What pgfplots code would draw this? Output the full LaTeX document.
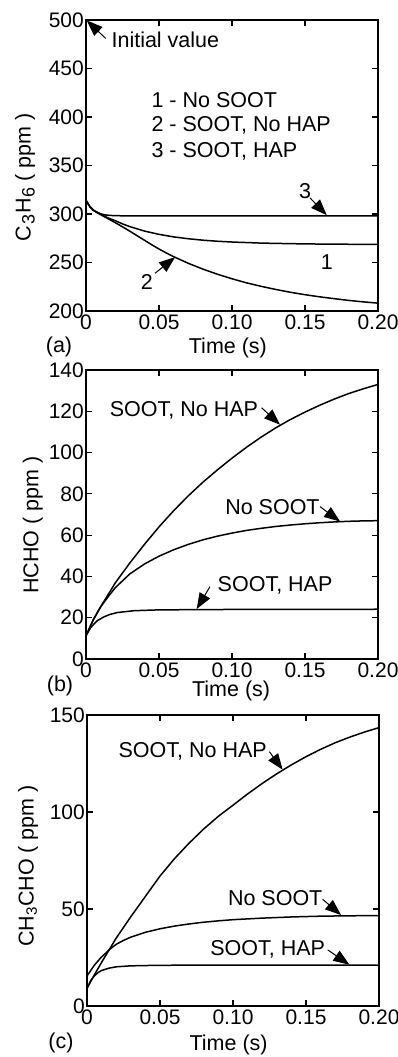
\documentclass[border=0pt]{standalone}
\usepackage{pgfplots}
\pgfplotsset{compat=1.18}
\usepackage{fontspec}
\setmainfont{Liberation Sans}
\usetikzlibrary{arrows.meta}

\tikzset{annot/.style={-{Triangle[length=16pt,width=12pt]}, line width=1pt},
         curve/.style={black, line width=1.5pt, mark=none}}
\pgfplotsset{
  myaxis/.style={
    scale only axis, width=292pt,
    xmin=0, xmax=0.2,
    xtick={0,0.05,0.1,0.15,0.2},
    xticklabels={0,0.05,0.10,0.15,0.20},
    tick align=inside, major tick length=6pt,
    axis line style={line width=1.5pt},
    every tick/.style={black, line width=1.1pt},
    tick label style={font=\fontsize{21}{24}\selectfont},
    label style={font=\fontsize{21.5}{25}\selectfont},
    /pgf/number format/assume math mode=true,
    yticklabel style={inner xsep=2pt},
    clip=false,
  },
}

\begin{document}
\begin{tikzpicture}[x=1pt,y=1pt,font=\fontsize{21.5}{25}\selectfont]
\useasboundingbox (0,0) rectangle (398,1057);

% ---------------- (a) C3H6 ----------------
\begin{axis}[myaxis, at={(86pt,746pt)}, anchor=south west, height=291pt,
  ymin=200, ymax=500, ytick={200,250,...,500},
  xlabel={Time (s)}, xlabel style={at={(axis description cs:0.486,-0.127)}, anchor=center},
  ylabel={C\kern1pt\raisebox{-4pt}{\fontsize{18}{20}\selectfont 3}\kern1pt H\kern1pt\raisebox{-4pt}{\fontsize{18}{20}\selectfont 6} ( ppm )},
  ylabel style={at={(axis description cs:-0.209,0.459)}, anchor=center}]
\addplot[curve] coordinates {(0,314) (0.0027,307.5) (0.005,304) (0.01,300) (0.015,296) (0.02,293.1) (0.025,289.8) (0.03,287.0) (0.04,282.4) (0.05,279.0) (0.06,276.4) (0.07,274.5) (0.08,273.0) (0.09,271.9) (0.10,271.1) (0.12,270.0) (0.14,269.4) (0.16,269.0) (0.18,268.8) (0.20,268.7)};
\addplot[curve] coordinates {(0,314) (0.0027,307.5) (0.005,303.8) (0.01,299.3) (0.015,295.2) (0.02,291.1) (0.025,286.8) (0.03,282.3) (0.035,277.6) (0.04,273.0) (0.045,268.3) (0.05,263.9) (0.055,259.8) (0.06,256.0) (0.07,249.2) (0.08,243.2) (0.09,237.9) (0.10,233.2) (0.11,229.0) (0.12,225.4) (0.13,222.2) (0.14,219.3) (0.15,216.8) (0.16,214.6) (0.17,212.7) (0.18,210.9) (0.19,209.4) (0.20,208.1)};
\addplot[curve] coordinates {(0,314) (0.0027,307.5) (0.005,304) (0.0075,301.5) (0.01,300.2) (0.0125,299.2) (0.0165,298.5) (0.025,298.1) (0.05,298) (0.20,298)};
\node[anchor=west] at (axis cs:0.0151,479.4) {Initial value};
\draw[annot] (axis cs:0.0135,481) -- (axis cs:0.0005,499.5);
\node[anchor=west] at (axis cs:0.0425,417) {1 - No SOOT};
\node[anchor=west] at (axis cs:0.0425,391) {2 - SOOT, No HAP};
\node[anchor=west] at (axis cs:0.0425,365) {3 - SOOT, HAP};
\node at (axis cs:0.150,323.4) {3};
\draw[annot] (axis cs:0.1534,316.6) -- (axis cs:0.1649,298.8);
\node at (axis cs:0.1649,250.8) {1};
\node at (axis cs:0.0416,230.2) {2};
\draw[annot] (axis cs:0.0473,238.9) -- (axis cs:0.061,255.5);
\node at (rel axis cs:-0.0925,-0.124) {(a)};
\end{axis}

% ---------------- (b) HCHO ----------------
\begin{axis}[myaxis, at={(86pt,398pt)}, anchor=south west, height=289pt,
  ymin=0, ymax=140, ytick={0,20,...,140},
  xlabel={Time (s)}, xlabel style={at={(axis description cs:0.497,-0.11)}, anchor=center},
  ylabel={HCHO ( ppm )},
  ylabel style={at={(axis description cs:-0.182,0.464)}, anchor=center}]
\addplot[curve] coordinates {(0,11.3) (0.005,19) (0.01,25.3) (0.015,31) (0.02,36.8) (0.03,46.5) (0.04,55.5) (0.05,64) (0.06,71.8) (0.07,79) (0.08,85.6) (0.09,91.6) (0.10,97.3) (0.11,102.6) (0.12,107.5) (0.13,112) (0.14,116) (0.15,119.6) (0.16,122.9) (0.17,125.9) (0.18,128.6) (0.19,130.9) (0.20,133)};
\addplot[curve] coordinates {(0,11.3) (0.005,19) (0.01,25.2) (0.015,30) (0.02,34.5) (0.03,41.2) (0.04,46) (0.05,49.8) (0.06,52.9) (0.07,55.5) (0.08,57.7) (0.09,59.5) (0.10,61) (0.11,62.3) (0.12,63.3) (0.13,64.2) (0.14,64.9) (0.15,65.5) (0.16,66) (0.17,66.4) (0.18,66.7) (0.19,66.9) (0.20,67)};
\addplot[curve] coordinates {(0,11.3) (0.003,15) (0.0055,17) (0.008,18.7) (0.0123,20.4) (0.016,21.5) (0.0214,22.5) (0.0329,23.4) (0.05,23.8) (0.10,24) (0.20,24.1)};
\node at (axis cs:0.0671,120.6) {SOOT, No HAP};
\draw[annot] (axis cs:0.1203,121.7) -- (axis cs:0.1329,113.5);
\node at (axis cs:0.1277,73.8) {No SOOT};
\draw[annot] (axis cs:0.1603,73.8) -- (axis cs:0.174,66.6);
\node at (axis cs:0.1295,35.5) {SOOT, HAP};
\draw[annot] (axis cs:0.0849,35) -- (axis cs:0.0758,24.2);
\node at (rel axis cs:-0.089,-0.093) {(b)};
\end{axis}

% ---------------- (c) CH3CHO ----------------
\begin{axis}[myaxis, at={(87pt,51pt)}, anchor=south west, height=291pt,
  ymin=0, ymax=150, ytick={0,50,100,150},
  xlabel={Time (s)}, xlabel style={at={(axis description cs:0.485,-0.134)}, anchor=center},
  ylabel={CH\textsubscript{3}CHO ( ppm )},
  ylabel style={at={(axis description cs:-0.202,0.481)}, anchor=center}]
\addplot[curve] coordinates {(0,9.1) (0.005,16) (0.01,22.5) (0.016,30) (0.02,35) (0.03,46) (0.04,56.5) (0.05,67) (0.06,76) (0.07,84) (0.08,91.3) (0.09,97.8) (0.10,103.5) (0.11,109.3) (0.12,114.7) (0.13,119.7) (0.14,124.3) (0.15,128.5) (0.16,132.3) (0.17,135.7) (0.18,138.6) (0.19,141.2) (0.20,143.5)};
\addplot[curve] coordinates {(0,15.5) (0.005,21) (0.0096,25) (0.016,29.5) (0.02,31.8) (0.025,33.8) (0.03,35.5) (0.04,38) (0.05,39.8) (0.06,41.2) (0.07,42.3) (0.08,43.2) (0.09,43.9) (0.10,44.5) (0.12,45.3) (0.14,45.9) (0.16,46.3) (0.18,46.5) (0.20,46.6)};
\addplot[curve] coordinates {(0,9.1) (0.0025,13) (0.005,15.5) (0.0075,17.2) (0.01,18.3) (0.015,19.5) (0.02,20.2) (0.03,20.7) (0.05,21) (0.20,21.1)};
\node at (axis cs:0.0724,131.1) {SOOT, No HAP};
\draw[annot] (axis cs:0.1249,131.1) -- (axis cs:0.134,121.8);
\node at (axis cs:0.1289,55.5) {No SOOT};
\draw[annot] (axis cs:0.1614,55) -- (axis cs:0.174,46.9);
\node at (axis cs:0.1238,29.2) {SOOT, HAP};
\draw[annot] (axis cs:0.1649,28.9) -- (axis cs:0.1797,21.3);
\node at (rel axis cs:-0.089,-0.127) {(c)};
\end{axis}
\end{tikzpicture}
\end{document}
